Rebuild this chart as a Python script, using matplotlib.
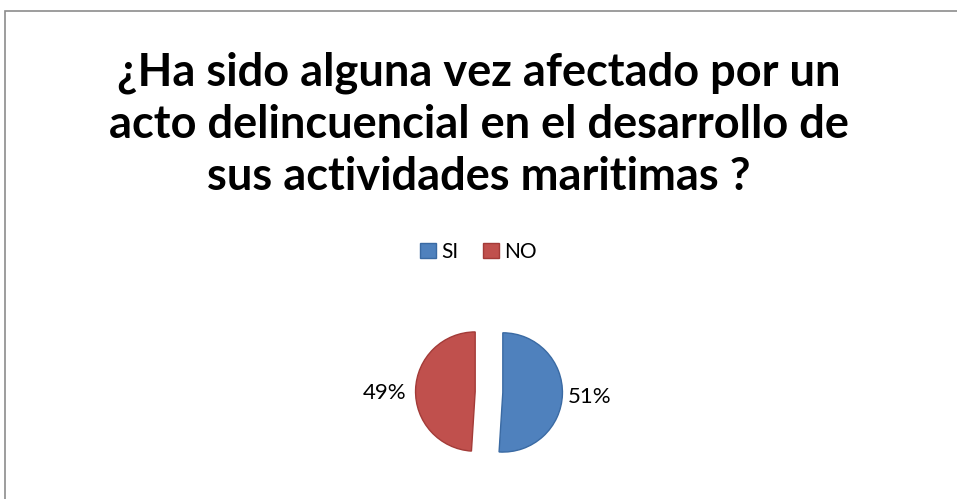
import matplotlib.pyplot as plt
from matplotlib.patches import Rectangle

labels = ["SI", "NO"]
values = [51, 49]
colors = ["#4F81BD", "#C0504D"]
edges = ["#3A6AA3", "#A33B38"]
title = "¿Ha sido alguna vez afectado por un\nacto delincuencial en el desarrollo de\nsus actividades maritimas ?"

plt.rcParams["font.family"] = ["Lato", "DejaVu Sans"]

W, H = 957, 499
fig = plt.figure(figsize=(W / 100, H / 100), dpi=100)

# chart-area border (extends beyond the crop on right/bottom)
fig.patches.append(Rectangle((4.5 / W, -0.1), 1.2, 1.1 - 10.5 / H, transform=fig.transFigure,
                             fill=False, edgecolor="#8c8c8c", linewidth=1.2))

fig.text(0.5, 1 - 125 / H, title, ha="center", va="center", fontsize=32.5,
         fontweight="bold", linespacing=1.3, color="black")

# pie
size = 160
cx, cy = 489, 392
ax = fig.add_axes([(cx - size / 2) / W, 1 - (cy + size / 2) / H, size / W, size / H])
wedges, _ = ax.pie(values, colors=colors, startangle=90, counterclock=False,
                   explode=[0.19, 0.19], radius=0.82,
                   wedgeprops={"linewidth": 1.0})
for w, e in zip(wedges, edges):
    w.set_edgecolor(e)
ax.set_xlim(-1.1, 1.1)
ax.set_ylim(-1.1, 1.1)
ax.set_aspect("equal")
ax.axis("off")

fig.text(590 / W, 1 - 397 / H, f"{values[0]}%", ha="center", va="center", fontsize=16)
fig.text(385 / W, 1 - 393 / H, f"{values[1]}%", ha="center", va="center", fontsize=16)

leg = fig.legend(wedges, labels, loc="center", bbox_to_anchor=(0.5, 1 - 252 / H),
                 ncol=2, frameon=False, fontsize=15, handlelength=0.75, handleheight=0.75,
                 handletextpad=0.25, columnspacing=1.2)

fig.savefig("out.png", dpi=100)
